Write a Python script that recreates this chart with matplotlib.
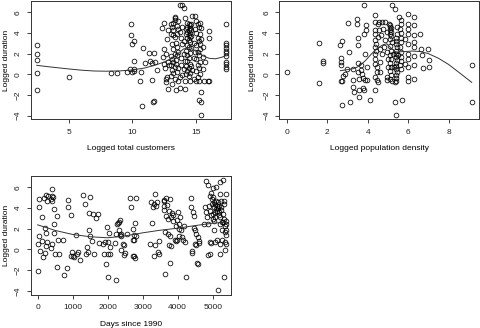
import numpy as np
import matplotlib
matplotlib.use("Agg")
import matplotlib.pyplot as plt

plt.rcParams['font.family'] = ['Liberation Sans', 'DejaVu Sans']

# --- panel 1: logged total customers vs logged duration
cust_x = [2.5, 2.5, 2.5, 2.5, 2.5, 5.0, 8.35, 8.8, 9.6,
          9.9, 9.85, 10.1, 10.0, 10.1, 9.8, 10.1, 10.1, 10.0,
          10.6, 10.8, 10.75, 10.95, 10.7,
          11.3, 11.5, 11.4, 11.5, 11.7, 11.8, 11.7, 11.6, 11.9,
          12.3, 12.5, 12.5, 12.4, 12.6, 12.5, 12.55, 12.6, 12.6, 12.7, 12.8, 12.7, 12.8, 12.75, 12.9,
          13.0, 13.1, 13.2, 13.0, 13.3, 13.1, 13.2, 13.0, 13.1, 13.2, 13.0, 13.3, 13.1, 13.2, 13.0, 13.3, 13.1, 13.4, 13.7, 14.1,
          13.2, 13.3, 13.35, 13.3, 13.6, 13.5, 13.9, 13.7, 13.5, 13.2, 13.7, 13.9, 14.0, 14.1,
          13.4, 13.5, 13.6, 13.5, 13.4, 13.6, 13.5, 13.7, 13.6, 13.8, 13.8, 13.9, 13.8, 14.0, 14.0, 14.0, 14.1, 14.1, 13.9, 13.4, 13.3, 13.6,
          14.3, 14.4, 14.5, 14.3, 14.5, 14.4, 14.3, 14.5, 14.4, 14.5, 14.3, 14.4, 14.5, 14.3, 14.4, 14.2, 14.5, 14.3, 14.4, 14.3,
          14.5, 14.2, 14.4, 14.3, 14.5, 14.4, 14.5, 14.6, 14.6, 14.6, 14.6, 14.6, 14.2, 14.2, 14.2, 14.7, 14.9, 14.8, 14.8, 14.8,
          14.7, 14.9, 14.9,
          15.0, 15.1, 15.2, 15.0, 15.3, 15.1, 15.2, 15.0, 15.3, 15.1, 15.2, 15.0, 15.3, 15.1, 15.2, 15.0, 15.3, 15.1, 15.2, 15.0,
          15.4, 15.2, 15.4, 15.35, 15.3, 15.4, 15.4, 15.5, 15.5, 15.5, 15.6, 15.3, 15.7,
          16.0, 16.0, 15.9, 16.0,
          17.3, 17.3, 17.3, 17.3, 17.3, 17.3, 17.3, 17.3, 17.3, 17.3, 17.3]
cust_y = [2.85, 1.97, 1.35, 0.16, -1.48, -0.23, 0.16, 0.16, 0.26,
          4.84, 3.84, 3.23, 2.9, 1.26, 0.48, 0.55, 0.3, 0.2,
          -0.68, 2.58, -3.06, 1.13, 0.26,
          2.1, -0.58, 1.29, 1.1, 2.1, 1.19, -2.58, -2.7, 0.39,
          4.48, 5.0, 2.48, 1.68, 2.0, 1.03, 0.61, -0.42, -0.74, -0.26, -1.39, 3.45, 4.26, 1.19, 0.87,
          4.9, 4.6, 4.3, 3.9, 3.6, 2.9, 2.4, 1.8, 1.5, 1.2, 0.9, 0.7, 0.4, 0.1, -0.2, -0.5, -0.9, -1.55, -1.3, -1.4,
          5.0, 5.5, 5.4, 5.3, 5.2, 4.7, 4.6, 4.1, 3.9, 3.8, 6.7, 6.7, 6.4, 5.4,
          3.0, 2.6, 2.2, 1.9, 1.0, 0.6, 0.2, -0.3, -0.6, 0.9, 1.6, 2.9, 3.5, 3.2, 2.0, 0.5, -0.6, 1.3, -0.1, 1.4, 2.0, 4.4,
          5.0, 4.9, 4.8, 4.6, 4.5, 4.3, 4.1, 4.0, 3.8, 3.6, 3.5, 3.3, 3.1, 2.8, 2.6, 2.3, 2.1, 1.9, 1.6, 1.3,
          1.0, 0.8, 0.6, 0.3, 0.1, -0.2, -0.6, 4.9, 4.3, 3.7, 2.5, 0.8, 4.4, 3.9, 0.0, 5.6, 5.6, 3.0, 1.6, -0.5,
          0.4, 2.2, 4.4,
          5.2, 4.9, 4.6, 4.0, 3.9, 3.5, 3.2, 2.8, 2.4, 2.2, 1.9, 1.5, 1.2, 0.9, 0.6, 0.3, 0.0, -0.3, -0.6, -0.6,
          -1.7, -2.5, -2.65, -3.9, 2.9, 4.5, 3.4, 2.6, 1.7, 0.5, -0.6, 5.0, 1.2,
          4.2, 3.5, -0.6, -0.6,
          4.9, 3.0, 2.8, 2.5, 2.3, 2.1, 1.8, 1.2, 1.0, 0.7, 0.5]
cust_fit_x = [2.5, 3.5, 5, 6, 7, 8, 9, 10, 11, 12, 12.5, 13, 13.5, 14, 14.5, 15, 15.5, 16, 16.5, 17, 17.3]
cust_fit_y = [0.87, 0.72, 0.52, 0.4, 0.32, 0.3, 0.33, 0.42, 0.62, 0.98, 1.2, 1.5, 1.95, 2.45, 2.6, 2.2, 1.8, 1.55, 1.5, 1.65, 1.8]

# --- panel 2: logged population density
dens_x = [0.0, 1.6, 1.6, 1.78, 1.78,
          2.63, 2.71, 2.68, 2.68, 2.68, 2.71, 2.68, 2.71, 2.8, 2.88, 2.96, 3.09, 3.05, 3.13, 3.29, 3.29, 3.29, 3.33,
          3.46, 3.49, 3.54, 3.54, 3.54, 3.54, 3.59, 3.59, 3.59, 3.65, 3.65, 3.7, 3.79, 3.79, 3.82, 3.82, 3.82, 3.87,
          3.87, 3.92, 3.92, 3.95, 3.95, 4.12,
          4.36, 4.36, 4.36, 4.36, 4.36, 4.36, 4.36, 4.36, 4.36, 4.36, 4.36, 4.41, 4.41, 4.44, 4.44, 4.47, 4.49, 4.53,
          4.53, 4.58, 4.58, 4.61, 4.61, 4.61, 4.64, 4.69, 4.69,
          4.77, 4.81, 4.86, 4.86, 4.94, 4.94, 4.94, 4.97, 5.02, 5.02, 5.07,
          5.1, 5.12, 5.15, 5.1, 5.17, 5.12, 5.15, 5.1, 5.18, 5.12, 5.15, 5.1, 5.17, 5.12, 5.15, 5.1, 5.17, 5.12, 5.2,
          5.19, 5.27, 5.3, 5.35, 5.35, 5.35, 5.38,
          5.4, 5.42, 5.4, 5.43, 5.4, 5.42, 5.4, 5.43, 5.4, 5.42, 5.4, 5.43, 5.4, 5.42, 5.4, 5.43, 5.46, 5.48,
          5.56, 5.63, 5.68, 5.65, 5.62, 5.67, 5.64, 5.66, 5.62, 5.67, 5.64, 5.66, 5.62, 5.67,
          6.0, 6.0, 6.0, 6.0, 6.0, 6.0, 6.0, 6.0, 6.0, 6.0, 5.85, 5.85,
          6.29, 6.29, 6.29, 6.29, 6.29, 6.29, 6.29, 6.29,
          6.58, 6.62, 6.67, 6.72, 7.0, 7.05, 7.05, 9.14, 9.14]
dens_y = [0.26, 3.06, -0.87, 1.29, 1.1,
          2.8, 3.23, 1.61, 1.19, 0.87, -0.68, -0.62, -3.0, -0.13, 0.06, 0.55, 2.16, 5.0, -2.68, -0.58, -1.23, 0.55, -1.71,
          5.39, 4.9, 3.55, 2.8, 1.1, 0.23, -0.42, -1.48, -2.19, 0.87, 0.39, 0.06, -0.32, -1.32, -1.48, 6.68, 3.94, 2.0,
          -0.52, 4.26, 4.74, 0.71, -0.58, -2.52,
          5.71, 5.06, 4.26, 3.94, 3.29, 2.65, 2.0, 1.52, 1.03, -0.26, -1.55, 2.97, 2.3, 0.71, -0.58, 0.2, -0.74, 3.61,
          4.9, 5.06, 4.26, 2.48, 1.19, 0.23, 3.77, 5.06, 2.0,
          4.42, 2.65, 5.06, 3.29, 2.16, -0.26, -0.58, 4.1, 1.52, 0.71, 4.9,
          4.74, 4.6, 4.45, 4.3, 4.1, 3.9, 3.7, 3.4, 3.1, 2.7, 2.3, 1.9, 1.5, 1.1, 0.7, 0.3, -0.1, -0.5, -0.6,
          6.68, 2.0, 0.71, 6.35, -0.74, -2.68, -3.97,
          3.5, 3.2, 2.9, 2.6, 2.3, 2.0, 1.7, 1.4, 1.1, 0.8, 0.5, 0.2, -0.1, -0.4, -0.6, 4.58, 3.9, 1.9,
          5.55, 5.23, -2.52, 4.9, 4.4, 4.0, 3.5, 3.1, 2.6, 2.2, 1.7, 1.3, 0.9, 0.5,
          5.87, 4.9, 4.42, 3.94, 2.97, 2.0, 1.52, 0.71, -0.26, -0.65, 3.4, 1.0,
          5.55, 4.74, 3.77, 3.13, 2.65, 1.74, 0.87, -0.42,
          3.94, 2.48, 1.84, 0.64, 2.48, 1.42, 0.71, 0.87, -2.68]
dens_fit_x = [2.65, 3.0, 3.3, 3.6, 3.9, 4.2, 4.5, 4.75, 4.95, 5.15, 5.4, 5.8, 6.2, 6.6, 7.0, 7.5, 8.0, 8.5, 9.14]
dens_fit_y = [0.35, 0.45, 0.55, 0.8, 1.35, 2.0, 2.55, 2.85, 2.95, 2.55, 2.15, 2.2, 2.25, 2.2, 2.0, 1.55, 0.95, 0.2, -0.78]

# --- panel 3: days since 1990
days_x = [0, 20, 40, 50, 40, 70, 110, 110, 140, 190, 210, 220, 230, 240, 260, 240, 260, 300, 380, 370, 400, 410, 420,
          450, 420, 470, 470, 470, 490, 550, 540, 590, 610, 730, 750, 830, 870, 870, 940, 970, 1000, 1040, 940, 1110,
          1090, 1200, 1160, 1300, 1350, 1380, 1420, 1440, 1470, 1470, 1490, 1490, 1540, 1590, 1600, 1680, 1730, 1760,
          1870, 1890, 1930, 1950, 1990, 2010, 2010, 2020, 2040, 2060, 2080, 2200, 2250, 2250, 2300, 2330, 2270, 2350,
          2330, 2350, 2390, 2370, 2390, 2440, 2460, 2460, 2490, 2540, 2630, 2680, 2710, 2710, 2740, 2750, 2730, 2770,
          2740, 2770, 2820, 2820,
          3220, 3250, 3300, 3280, 3310, 3320, 3340, 3360, 3390, 3420, 3440, 3480, 3470, 3610, 3600, 3620, 3610, 3640,
          3650, 3680, 3660, 3690, 3710, 3720, 3750, 3770, 3750, 3770, 3790, 3820, 3820, 3850, 3870, 3880, 3910, 3940,
          3960, 3980, 3990, 4010, 4030, 4040, 4050, 4070, 4090, 4120, 4150, 4170, 4200, 4240,
          4390, 4390, 4400, 4410, 4450, 4460, 4480, 4500, 4500, 4510, 4530, 4550, 4570, 4590, 4610, 4620, 4740,
          4800, 4860, 4910, 4940, 4810, 4770, 4830, 4860, 4890, 4910, 4910, 4860, 4930, 4950, 4980, 4990, 5010, 5030,
          5010, 5030, 5040, 5060, 5050, 5080, 5100, 5080, 5100, 5120, 5120, 5150, 5150, 5170, 5180, 5200, 5200, 5210,
          5210, 5220, 5240, 5240, 5260, 5270, 5290, 5290, 5300, 5310, 5320, 5330, 5330, 5340, 5350, 5350, 5350, 5370,
          5370, 5380, 5380, 5380, 5370, 5200, 5100, 5010, 4960, 5060, 5140, 5230, 5000, 5110, 5180, 5260]
days_y = [-2.1, 0.55, 1.25, 4.07, 4.9, -0.15, 0.8, 3.1, -0.7, 5.0, -0.35, 2.08, 1.57, 0.32, 4.65, 5.3, 0.7, 5.2, 0.15,
          4.85, 4.7, 5.2, 5.83, 5.1, 0.55, 2.47, 1.57, 3.9, -0.4, 3.27, -1.7, 0.93, -0.42, 0.93, -2.5, -1.76, 4.78,
          4.13, 3.37, -0.26, -0.67, -0.74, -0.67, -0.42, 1.38, -1.06, -0.26, 5.26, 4.4, -0.48, 0.22, -0.26, 1.83, 3.5,
          5.06, 1.25, 0.77, 3.43, -0.48, 3.0, 3.43, 0.61, 0.55, -0.42, 0.7, -1.44, 2.15, -0.42, -2.66, 0.7, 1.57, 0.22,
          -0.42, 0.64, -2.98, 1.5, 2.53, 2.63, 2.47, 2.85, 1.83, 1.35, 1.44, 1.31, -0.1, 0.55, 0.38, -0.58, -0.35, 1.5,
          5.0, 4.07, 1.99, -0.67, 0.93, -0.67, 0.86, 2.53, 1.35, -0.83, 5.0, 1.25,
          0.48, 4.6, 4.13, 2.53, 4.4, -0.64, 5.35, 0.38, 4.17, 4.6, -0.26, -0.42, 0.77, 4.23, 4.78, 4.7, 3.85, -2.34,
          1.67, 3.27, 4.97, 4.26, 2.95, 1.47, 3.75, 1.25, 0.45, -1.31, 4.87, 3.1, 0.32, 3.5, 2.79, 3.33, 0.93, 0.77,
          2.3, 2.85, 0.93, 3.6, 1.99, 1.25, 2.47, 3.1, 1.9, 1.19, 0.93, 2.24, 0.7, -2.66,
          5.0, 4.07, -0.16, -0.35, 3.6, 3.27, 2.08, 1.92, 0.55, 0.38, 1.5, -1.31, -1.44, 1.19, 0.8, 0.61, 2.47,
          6.6, 6.25, 5.2, 5.4, 3.6, 4.07, 3.1, 2.47, 4.23, 3.75, 0.7, -0.58, -0.48, 0.61, 4.4, 4.87, 5.03, 4.55,
          3.43, 2.79, 1.83, 0.7, 4.07, 4.4, 3.9, 3.1, 4.7, 3.75, 0.87, 4.55, -3.94, 4.23, 3.6, 5.35, 3.1, 2.47,
          0.55, -0.42, 4.7, 4.07, 1.83, 0.87, 6.7, 3.43, 2.63, -2.66, 4.7, 4.4, 2.95, 2.3, 1.67, 0.7, -0.1, 5.35,
          2.47, 2.79, 1.83, 1.35, 0.55, 6.47, 6.0, 5.9, 3.3, 3.6, 4.0, 3.8, 2.9, 4.2, 3.3, 2.6]
days_fit_x = [0, 500, 1000, 1500, 2000, 2500, 3000, 3500, 4000, 4500, 5000, 5380]
days_fit_y = [2.37, 1.83, 1.44, 1.22, 1.12, 1.3, 1.6, 1.85, 2.05, 2.3, 2.53, 2.62]

W, H = 480, 328
fig = plt.figure(figsize=(W / 100, H / 100), dpi=100)


def make_ax(l, t, r, b):
    return fig.add_axes([l / W, 1 - b / H, (r - l) / W, (b - t) / H])


def style(ax, xlim, ylim, xticks, xlabel, ylab_x):
    ax.set_xlim(*xlim)
    ax.set_ylim(*ylim)
    ax.set_xticks(xticks)
    ax.set_yticks([-4, -2, 0, 2, 4, 6])
    for lab in ax.get_yticklabels():
        lab.set_rotation(90)
        lab.set_va('center')
    ax.tick_params(direction='out', length=3, width=0.6, labelsize=6, pad=3.5,
                   top=False, right=False, colors='#222222')
    for s in ax.spines.values():
        s.set_linewidth(0.7)
        s.set_color('#333333')
    ax.set_xlabel(xlabel, fontsize=6, labelpad=7)
    ax.set_ylabel('Logged duration', fontsize=6)
    ax.yaxis.set_label_coords(ylab_x, 0.5)


pt = dict(linestyle='none', marker='o', markersize=3.4, mfc='none', mec='black', mew=0.55)

ax1 = make_ax(31, 1, 231, 119.5)
ax1.plot(cust_x, cust_y, **pt)
ax1.plot(cust_fit_x, cust_fit_y, color='#333333', lw=0.7)
style(ax1, (2.05, 17.72), (-4.37, 7.09), [5, 10, 15], 'Logged total customers', -0.105)

ax2 = make_ax(279.3, 1, 479, 119.5)
ax2.plot(dens_x, dens_y, **pt)
ax2.plot(dens_fit_x, dens_fit_y, color='#333333', lw=0.7)
style(ax2, (-0.365, 9.5), (-4.37, 7.09), [0, 2, 4, 6, 8], 'Logged population density', -0.115)

ax3 = make_ax(30.7, 175.7, 231, 295)
ax3.plot(days_x, days_y, **pt)
ax3.plot(days_fit_x, days_fit_y, color='#333333', lw=0.7)
style(ax3, (-200, 5523), (-4.41, 7.12), [0, 1000, 2000, 3000, 4000, 5000], 'Days since 1990', -0.105)

fig.savefig('out.png', dpi=100)
